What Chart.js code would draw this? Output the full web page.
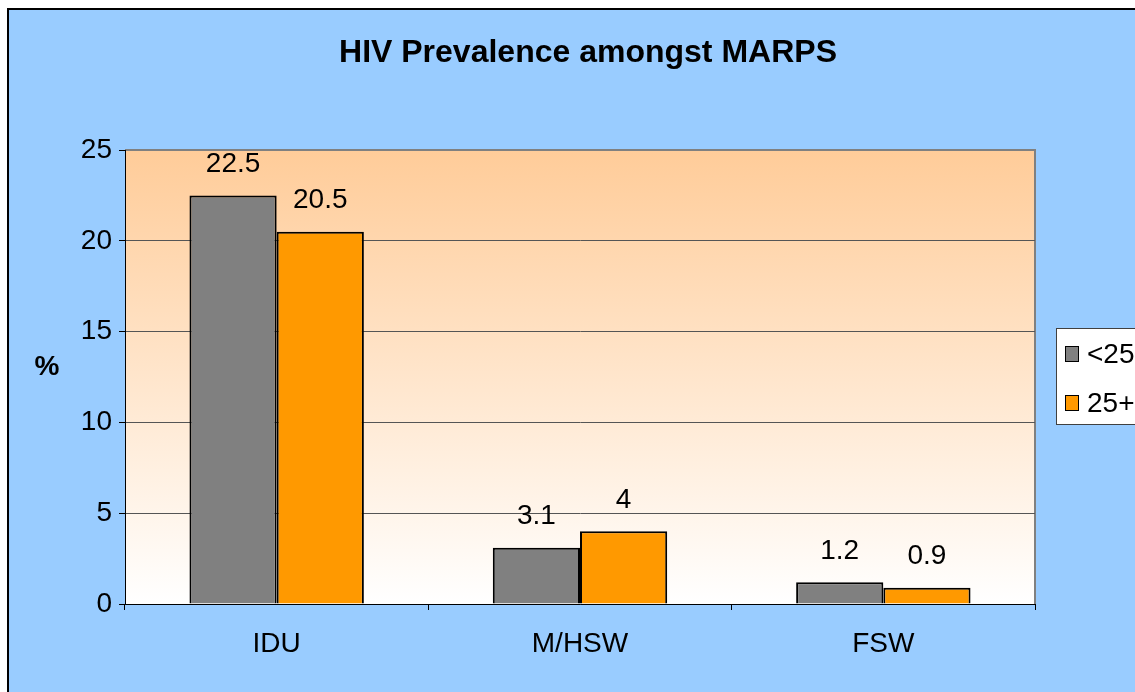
<!DOCTYPE html>
<html>
<head>
<meta charset="utf-8">
<script src="https://cdn.jsdelivr.net/npm/chart.js@4"></script>
<style>
  html, body { margin: 0; padding: 0; background: #fff; overflow: hidden; }
  canvas { display: block; }
</style>
</head>
<body>
<canvas id="chart" width="1135" height="692"></canvas>
<script>
const categories = ["IDU", "M/HSW", "FSW"];
const under25 = [22.5, 3.1, 1.2];
const over25 = [20.5, 4, 0.9];
const seriesNames = ["<25", "25+"];
const seriesColors = ["#808080", "#ff9900"];
const chartTitle = "HIV Prevalence amongst MARPS";
const yTitle = "%";

const FONT = "'Liberation Sans', Arial, sans-serif";

// background, plot area gradient, titles, labels, legend box
const decor = {
    id: "decor",
    beforeDraw(chart) {
        const { ctx, chartArea: a, width, height } = chart;
        ctx.save();
        ctx.fillStyle = "#fff";
        ctx.fillRect(0, 0, width, height);
        ctx.fillStyle = "#99ccff";
        ctx.fillRect(8, 9, width, height);
        ctx.strokeStyle = "#000";
        ctx.lineWidth = 2;
        ctx.beginPath();
        ctx.moveTo(8, height + 5);
        ctx.lineTo(8, 9);
        ctx.lineTo(width + 5, 9);
        ctx.stroke();

        const g = ctx.createLinearGradient(0, a.top, 0, a.bottom);
        g.addColorStop(0, "#ffcc99");
        g.addColorStop(1, "#ffffff");
        ctx.fillStyle = g;
        ctx.fillRect(a.left, a.top, a.right - a.left, a.bottom - a.top);
        ctx.strokeStyle = "#808080";
        ctx.lineWidth = 2;
        ctx.beginPath();
        ctx.moveTo(a.left, a.top);
        ctx.lineTo(a.right, a.top);
        ctx.lineTo(a.right, a.bottom);
        ctx.stroke();
        ctx.restore();
    },
    afterDraw(chart) {
        const { ctx, chartArea: a } = chart;
        ctx.save();
        ctx.fillStyle = "#000";
        ctx.textAlign = "center";
        ctx.textBaseline = "middle";
        ctx.font = "bold 32px " + FONT;
        ctx.fillText(chartTitle, 588, 53);
        ctx.font = "bold 28px " + FONT;
        ctx.fillText(yTitle, 47, 367);

        // data labels
        ctx.font = "28px " + FONT;
        chart.data.datasets.forEach((ds, i) => {
            chart.getDatasetMeta(i).data.forEach((bar, j) => {
                ctx.fillText(String(ds.data[j]), bar.x, bar.y - 31);
            });
        });

        // legend
        const lx = a.right + 21, ly = 328;
        ctx.fillStyle = "#fff";
        ctx.fillRect(lx, ly, 120, 96);
        ctx.strokeStyle = "#404040";
        ctx.lineWidth = 1;
        ctx.strokeRect(lx + 0.5, ly + 0.5, 120, 96);
        ctx.textAlign = "left";
        seriesNames.forEach((name, i) => {
            const y = ly + 26 + i * 49;
            ctx.fillStyle = seriesColors[i];
            ctx.fillRect(lx + 9, y - 8, 14, 16);
            ctx.strokeStyle = "#000";
            ctx.strokeRect(lx + 9.5, y - 7.5, 13, 15);
            ctx.fillStyle = "#000";
            ctx.fillText(name, lx + 31, y + 1);
        });
        ctx.restore();
    }
};

new Chart(document.getElementById("chart"), {
    type: "bar",
    data: {
        labels: categories,
        datasets: [
            { label: seriesNames[0], data: under25, backgroundColor: seriesColors[0], borderColor: "#000", borderWidth: 2 },
            { label: seriesNames[1], data: over25, backgroundColor: seriesColors[1], borderColor: "#000", borderWidth: 2 }
        ]
    },
    options: {
        responsive: false,
        animation: false,
        devicePixelRatio: 1,
        layout: { padding: { left: 0, top: 150, right: 100, bottom: 0 } },
        categoryPercentage: 0.575,
        barPercentage: 1.0,
        plugins: {
            legend: { display: false },
            title: { display: false },
            tooltip: { enabled: false }
        },
        scales: {
            x: {
                grid: { offset: true, drawOnChartArea: false, color: "#000", tickLength: 6 },
                border: { color: "#000", width: 1 },
                ticks: { color: "#000", font: { family: FONT, size: 28 }, padding: 17 },
                afterFit(s) { s.height = 88; }
            },
            y: {
                min: 0, max: 25,
                ticks: { stepSize: 5, color: "#000", font: { family: FONT, size: 28 }, padding: 7 },
                grid: { color: (c) => c.tick.value === 25 ? "rgba(0,0,0,0)" : "#555", tickColor: "#000", tickLength: 6 },
                border: { color: "#000", width: 1 },
                afterFit(s) { s.width = 125; }
            }
        }
    },
    plugins: [decor]
});
</script>
</body>
</html>
